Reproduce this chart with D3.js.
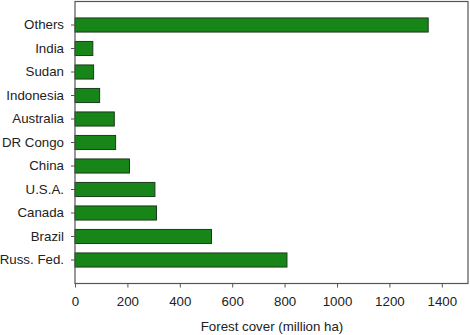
<!DOCTYPE html>
<html><head><meta charset="utf-8">
<script src="https://cdn.jsdelivr.net/npm/d3@7"></script>
<style>body{margin:0;background:#fff}svg{display:block}text{font-family:"Liberation Sans",Arial,sans-serif;fill:#222}</style>
</head><body><svg id="c" width="470" height="335"></svg>
<script>
const categories = ["Others","India","Sudan","Indonesia","Australia","DR Congo","China","U.S.A.","Canada","Brazil","Russ. Fed."];
const values = [1348, 68, 71, 94, 150, 155, 208, 305, 311, 521, 809];
const xTicks = [0,200,400,600,800,1000,1200,1400];
const xLabel = "Forest cover (million ha)";

const svg = d3.select("#c");
const m = {l:75, r:2, t:1.5, b:51.5};
const W = 470, H = 335;
const x = d3.scaleLinear().domain([0,1500]).range([m.l, W - m.r]);
const y = d3.scaleBand().domain(categories).range([m.t, H - m.b]).paddingInner(0.4).paddingOuter(0.7);

svg.selectAll("rect.bar").data(categories).join("rect").attr("class","bar")
  .attr("x", x(0)).attr("y", d => y(d))
  .attr("width", (d,i) => x(values[i]) - x(0)).attr("height", y.bandwidth())
  .attr("fill", "#178517").attr("stroke", "#1c3a1c").attr("stroke-width", 1);

// frame
svg.append("rect").attr("x", m.l).attr("y", m.t).attr("width", W - m.r - m.l).attr("height", H - m.b - m.t)
  .attr("fill","none").attr("stroke","#555").attr("stroke-width",1.2);

const xa = svg.append("g").attr("transform", `translate(0,${H - m.b})`)
  .call(d3.axisBottom(x).tickValues(xTicks).tickSize(4).tickPadding(9).tickFormat(d3.format("d")));
const ya = svg.append("g").attr("transform", `translate(${m.l},0)`)
  .call(d3.axisLeft(y).tickSize(4).tickPadding(7));
[xa, ya].forEach(a => {
  a.select(".domain").remove();
  a.selectAll("line").attr("stroke","#555");
  a.selectAll("text").style("font-size","13.3px").attr("fill","#1a1a1a").style("font-family","'Liberation Sans', Arial, sans-serif");
});

svg.append("text").attr("x", (x(0) + x(1500)) / 2 + 0.5).attr("y", 331)
  .attr("text-anchor","middle").style("font-size","13.3px").attr("fill","#1a1a1a").text(xLabel);
</script></body></html>
